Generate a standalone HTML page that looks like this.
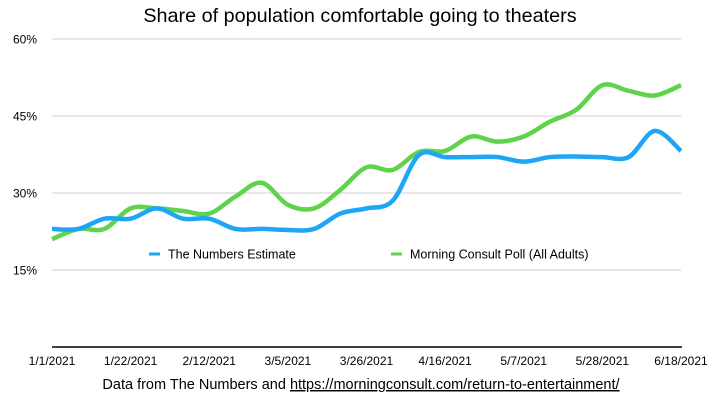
<!DOCTYPE html>
<html><head><meta charset="utf-8"><style>
body{margin:0;background:#fff;font-family:"Liberation Sans",sans-serif;}
svg{display:block}
</style></head><body>
<svg width="720" height="400" id="c" font-family="Liberation Sans, sans-serif">
<text x="360" y="22" text-anchor="middle" font-size="19.8" fill="#000">Share of population comfortable going to theaters</text>
<g id="grid"></g><g id="lines"></g><g id="xt"></g>
<g>
<line x1="149" y1="254" x2="160" y2="254" stroke="#1ea6f6" stroke-width="3"/>
<text x="168" y="258.5" font-size="12.5">The Numbers Estimate</text>
<line x1="391" y1="254" x2="402" y2="254" stroke="#5fd34b" stroke-width="3"/>
<text x="410" y="258.5" font-size="12.5">Morning Consult Poll (All Adults)</text>
</g>
<text x="361" y="389" text-anchor="middle" font-size="14.5">Data from The Numbers and <tspan text-decoration="underline">https://morningconsult.com/return-to-entertainment/</tspan></text>
</svg>
<script>
const xLabels=["1/1/2021","1/22/2021","2/12/2021","3/5/2021","3/26/2021","4/16/2021","5/7/2021","5/28/2021","6/18/2021"];
const yTicks=[15,30,45,60];
const numbersEstimate=[23,23,25,25,27,25,25,23,23,22.8,23,26,27,28.5,37.4,37,37,37,36.1,37,37.1,37,37,42.1,38.2];
const morningConsult=[21,23,23,27,27,26.5,26,29.3,32,27.7,27,30.6,35,34.5,38,38.2,41,40,41,43.9,46.2,51,49.9,49,51];
const NS="http://www.w3.org/2000/svg";
const x0=52,x1=681,yBase=347,pxPer=77/15;
const X=i=>x0+i*(x1-x0)/(numbersEstimate.length-1);
const Y=v=>yBase-v*pxPer;
function mk(t,a,p){const e=document.createElementNS(NS,t);for(const k in a)e.setAttribute(k,a[k]);p.appendChild(e);return e;}
const grid=document.getElementById('grid');
yTicks.forEach(v=>{
 const l=mk('line',{x1:x0,x2:x1,y1:Y(v),y2:Y(v),stroke:'#cfcfcf','stroke-width':1},grid);
 
 
 const t=mk('text',{x:37,y:Y(v)+4.5,'text-anchor':'end','font-size':12},grid);
 t.textContent=v+'%';
 
 
});
const ax=mk('line',{x1:x0,x2:x1+1,y1:yBase,y2:yBase,stroke:'#000','stroke-width':1.5},grid);


const xt=document.getElementById('xt');
xLabels.forEach((s,j)=>{
 const t=mk('text',{x:X(j*3),y:365,'text-anchor':'middle','font-size':12},xt);
 t.textContent=s;
 
 
});
function path(vals){
 const p=vals.map((v,i)=>[X(i),Y(v)]);
 let d='M'+p[0][0]+','+p[0][1];
 for(let i=0;i<p.length-1;i++){
  const a=p[i-1]||p[i],b=p[i],c=p[i+1],e=p[i+2]||c;
  d+=' C'+(b[0]+(c[0]-a[0])/6)+','+(b[1]+(c[1]-a[1])/6)+' '+(c[0]-(e[0]-b[0])/6)+','+(c[1]-(e[1]-b[1])/6)+' '+c[0]+','+c[1];
 }
 return d;
}
const lines=document.getElementById('lines');
const g=mk('path',{d:path(morningConsult),fill:'none',stroke:'#5fd34b','stroke-width':4.5,'stroke-linejoin':'round'},lines);


const b=mk('path',{d:path(numbersEstimate),fill:'none',stroke:'#1ea6f6','stroke-width':4.5,'stroke-linejoin':'round'},lines);


</script>
</body></html>
